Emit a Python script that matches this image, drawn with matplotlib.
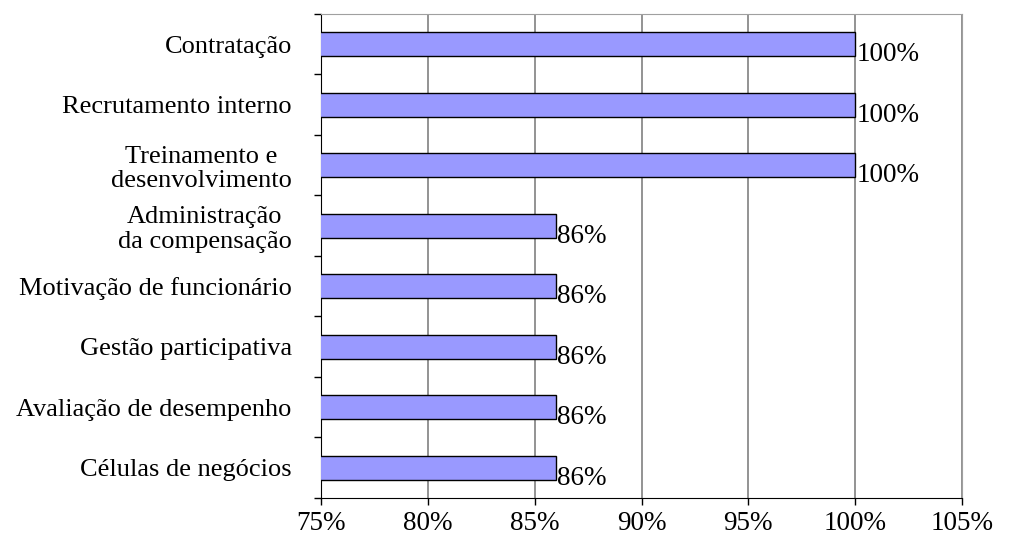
import numpy as np
import matplotlib
matplotlib.use("Agg")
from matplotlib import pyplot as plt
from matplotlib.ticker import FixedLocator, PercentFormatter

categorias = [
    "Contratação",
    "Recrutamento interno",
    "Treinamento e\ndesenvolvimento",
    "Administração\nda compensação",
    "Motivação de funcionário",
    "Gestão participativa",
    "Avaliação de desempenho",
    "Células de negócios",
]
percentuais = [100, 100, 100, 86, 86, 86, 86, 86]
rotulos = ["100%", "100%", "100%", "86%", "86%", "86%", "86%", "86%"]
x_ticks = [75, 80, 85, 90, 95, 100, 105]

plt.rcParams['font.family'] = ['Liberation Serif', 'DejaVu Serif']

fig = plt.figure(figsize=(10.1, 5.36), dpi=100)
ax = fig.add_axes([0.3178, 0.0709, 0.6347, 0.903])

y = np.arange(len(categorias))
ax.barh(y, percentuais, height=0.4, left=0, color="#9999FF",
        edgecolor="black", linewidth=1.0, zorder=3)

ax.set_xlim(75, 105)
ax.set_ylim(len(categorias) - 0.5, -0.5)
ax.set_xticks(x_ticks)
ax.xaxis.set_major_formatter(PercentFormatter(decimals=0))
ax.grid(axis="x", color="#808080", linewidth=1.2, zorder=0)

ax.set_yticks(y)
ax.set_yticklabels(categorias, ha="right", multialignment="center",
                   linespacing=1.15)
ax.yaxis.set_minor_locator(FixedLocator(np.arange(-0.5, len(categorias), 1)))
ax.tick_params(axis="y", which="major", length=0, pad=21, labelsize=19)
ax.tick_params(axis="y", which="minor", length=5, width=1, color="black")
ax.tick_params(axis="x", length=5, width=1, labelsize=19.5, pad=4.5)

for lado in ["top", "right"]:
    ax.spines[lado].set_color("#a0a0a0")
for lado in ["left", "bottom"]:
    ax.spines[lado].set_color("black")

for yi, v, txt in zip(y, percentuais, rotulos):
    ax.annotate(txt, xy=(v, yi), xytext=(1, -7.5), textcoords="offset points",
                ha="left", va="center", fontsize=19.5, zorder=4)

fig.savefig("out.png", dpi=100)
